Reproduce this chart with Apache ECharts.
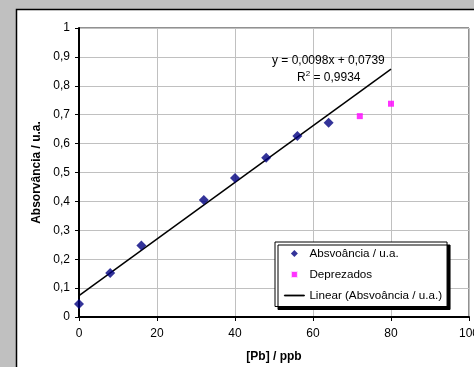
<!DOCTYPE html>
<html>
<head>
<meta charset="utf-8">
<script src="https://cdn.jsdelivr.net/npm/echarts@6/dist/echarts.min.js"></script>
<style>
  html, body { margin: 0; padding: 0; background: #c0c0c0; }
  #chart { width: 474px; height: 367px; }
</style>
</head>
<body>
<div id="chart"></div>
<script>
// absorbance measurements used for the fit
const pbUsed = [0, 8, 16, 32, 40, 48, 56, 64];
const absUsed = [0.045, 0.152, 0.247, 0.405, 0.481, 0.551, 0.626, 0.672];
// discarded points
const pbDiscarded = [72, 80];
const absDiscarded = [0.695, 0.738];
// linear trend line (Excel fit), endpoints
const trendX = [0, 80];
const trendY = [0.0739, 0.8579];
const xTicks = [0, 20, 40, 60, 80, 100];
const yTicks = [0, 0.1, 0.2, 0.3, 0.4, 0.5, 0.6, 0.7, 0.8, 0.9, 1];

const font = 'Liberation Sans, Arial, sans-serif';
const fs = 12;
const chart = echarts.init(document.getElementById('chart'));

const fmtY = v => (v === 0 || v === 1) ? String(v) : v.toFixed(1).replace('.', ',');

chart.setOption({
  backgroundColor: '#c0c0c0',
  animation: false,
  textStyle: { fontFamily: font },
  graphic: [
    {
      type: 'rect',
      z: -10,
      shape: { x: 16.5, y: 9.5, width: 470, height: 370 },
      style: { fill: '#fff', stroke: '#000', lineWidth: 1.5 }
    },
    {
      type: 'text',
      z: 20,
      left: 272,
      top: 55,
      style: {
        text: 'y = 0,0098x + 0,0739',
        font: fs + 'px ' + font,
        fill: '#000'
      }
    },
    {
      type: 'text',
      z: 20,
      left: 297,
      top: 70,
      style: {
        text: '{a|R}{s|2}{a| = 0,9934}',
        fill: '#000',
        rich: {
          a: { fontSize: fs, fontFamily: font, verticalAlign: 'bottom' },
          s: { fontSize: 8, fontFamily: font, verticalAlign: 'top', padding: [0, 0, 6, 0] }
        }
      }
    }
  ],
  grid: {
    left: 79, top: 28, width: 390, height: 289,
    outerBoundsMode: 'none',
    containLabel: false,
    show: true, borderColor: '#222', borderWidth: 1, backgroundColor: 'transparent'
  },
  xAxis: {
    type: 'value',
    min: 0, max: 100, interval: 20,
    name: '[Pb] / ppb',
    nameLocation: 'middle',
    nameGap: 34,
    nameTextStyle: { fontWeight: 'bold', fontSize: fs, color: '#000', fontFamily: font },
    axisLine: { show: true, lineStyle: { color: '#000', width: 2 } },
    axisTick: { show: true, length: 4, lineStyle: { color: '#000' } },
    axisLabel: {
      color: '#000', fontSize: fs, margin: 11, fontFamily: font,
      showMaxLabel: true, hideOverlap: false,
      formatter: v => xTicks.includes(v) ? String(v) : ''
    },
    splitLine: { show: true, lineStyle: { color: '#c0c0c0', width: 1 } }
  },
  yAxis: {
    type: 'value',
    min: 0, max: 1, interval: 0.1,
    name: 'Absorvância / u.a.',
    nameLocation: 'middle',
    nameGap: 31,
    nameTextStyle: { fontWeight: 'bold', fontSize: fs, color: '#000', fontFamily: font },
    axisLine: { show: true, lineStyle: { color: '#000', width: 2 } },
    axisTick: { show: true, length: 4, lineStyle: { color: '#000' } },
    axisLabel: {
      color: '#000', fontSize: fs, margin: 9, fontFamily: font,
      formatter: v => {
        const t = yTicks.find(k => Math.abs(k - v) < 1e-6);
        return t === undefined ? '' : fmtY(t);
      }
    },
    splitLine: { show: true, lineStyle: { color: '#c0c0c0', width: 1 } }
  },
  legend: {
    orient: 'vertical',
    left: 275, top: 242,
    padding: [5.5, 5, 5, 9],
    itemGap: 9,
    itemWidth: 20, itemHeight: 7,
    symbolKeepAspect: true,
    backgroundColor: '#fff',
    borderColor: '#000', borderWidth: 1,
    shadowColor: '#000', shadowBlur: 0, shadowOffsetX: 3, shadowOffsetY: 3,
    textStyle: { fontSize: 11.65, color: '#000', fontFamily: font },
    data: [
      {
        name: 'Absvoância / u.a.',
        icon: 'path://M5,0L10,5L5,10L0,5Z',
        itemStyle: { color: '#000080' }
      },
      {
        name: 'Deprezados',
        icon: 'path://M0,0H10V10H0Z',
        itemStyle: { color: '#ff00ff', borderColor: '#fff', borderWidth: 2 }
      },
      {
        name: 'Linear (Absvoância / u.a.)',
        icon: 'path://M0,0H20V1H0Z',
        itemStyle: { color: '#000', borderColor: '#000', borderWidth: 0.8 }
      }
    ]
  },
  series: [
    {
      name: 'Linear (Absvoância / u.a.)',
      type: 'line',
      data: trendX.map((x, i) => [x, trendY[i]]),
      showSymbol: false,
      symbol: 'none',
      lineStyle: { color: '#000', width: 1.5 },
      itemStyle: { color: '#000' },
      z: 3
    },
    {
      name: 'Absvoância / u.a.',
      type: 'scatter',
      data: pbUsed.map((x, i) => [x, absUsed[i]]),
      symbol: 'diamond',
      symbolSize: 10,
      itemStyle: { color: '#000080' },
      z: 4
    },
    {
      name: 'Deprezados',
      type: 'scatter',
      data: pbDiscarded.map((x, i) => [x, absDiscarded[i]]),
      symbol: 'rect',
      symbolSize: 6,
      itemStyle: { color: '#ff00ff' },
      z: 4
    }
  ]
});
</script>
</body>
</html>
